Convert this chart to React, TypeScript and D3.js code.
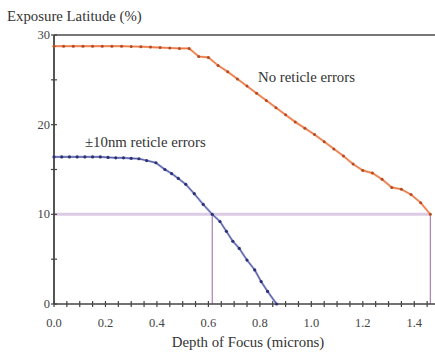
import React from "react";
import * as d3 from "d3";

const noErrX = [0, 0.0375, 0.075, 0.1125, 0.15, 0.1875, 0.225, 0.2625, 0.3, 0.3375, 0.375, 0.4125, 0.45, 0.4875, 0.525, 0.5625, 0.6, 0.6375, 0.675, 0.7125, 0.75, 0.7875, 0.825, 0.8625, 0.9, 0.9375, 0.975, 1.0125, 1.05, 1.0875, 1.125, 1.1625, 1.2, 1.2375, 1.275, 1.3125, 1.35, 1.3875, 1.425, 1.4625];
const noErrY = [28.75, 28.75, 28.75, 28.75, 28.75, 28.75, 28.75, 28.75, 28.72, 28.7, 28.65, 28.6, 28.55, 28.5, 28.5, 27.6, 27.5, 26.6, 25.9, 25.1, 24.3, 23.5, 22.7, 21.9, 21.1, 20.3, 19.6, 18.9, 18.1, 17.3, 16.5, 15.6, 14.9, 14.6, 13.9, 13.0, 12.8, 12.2, 11.3, 10.0];

const retErrX = [0, 0.03, 0.06, 0.09, 0.12, 0.15, 0.18, 0.21, 0.24, 0.27, 0.3, 0.33, 0.36, 0.396, 0.431, 0.457, 0.483, 0.512, 0.545, 0.58, 0.615, 0.645, 0.67, 0.695, 0.72, 0.75, 0.78, 0.805, 0.83, 0.865];
const retErrY = [16.4, 16.4, 16.4, 16.4, 16.4, 16.4, 16.4, 16.35, 16.3, 16.3, 16.25, 16.2, 16.0, 15.75, 15.0, 14.55, 14.0, 13.35, 12.3, 11.1, 10.0, 9.2, 8.1, 7.0, 6.2, 4.9, 3.8, 2.5, 1.4, 0.0];

const xTickLabels = ["0.0", "0.2", "0.4", "0.6", "0.8", "1.0", "1.2", "1.4"];
const yTickLabels = ["0", "10", "20", "30"];
const refLevel = 10;
const refDofs = [0.615, 1.4625];

const FONT = "'Times New Roman', 'Liberation Serif', Tinos, 'DejaVu Serif', serif";

export default function App() {
  const W = 435, H = 354;
  const x = d3.scaleLinear().domain([0, 1.5]).range([54, 440]);
  const y = d3.scaleLinear().domain([0, 30]).range([304, 35]);
  const ts = { fontFamily: FONT };

  const orange = noErrX.map((v, i) => [v, noErrY[i]] as [number, number]);
  const blue = retErrX.map((v, i) => [v, retErrY[i]] as [number, number]);
  const line = d3.line<[number, number]>().x(d => x(d[0])).y(d => y(d[1]));

  const xMinor = d3.range(0, 1.5001, 0.05);
  const yMinor = d3.range(0, 30.001, 5);

  return (
    <svg width={W} height={H} style={{ position: "absolute", left: 0, top: 0, background: "#fff", fontFamily: FONT }}>
      <line x1={x(0)} x2={x(refDofs[1])} y1={y(refLevel)} y2={y(refLevel)} stroke="#dccbe4" strokeWidth={3} />
      {refDofs.map((d, i) => (
        <line key={i} x1={x(d)} x2={x(d)} y1={y(refLevel)} y2={y(0)} stroke="#a882ae" strokeWidth={1.2} />
      ))}
      <line x1={x(0)} x2={W} y1={y(30)} y2={y(30)} stroke="#777" strokeWidth={2} />
      <line x1={x(0)} x2={x(0)} y1={y(30)} y2={y(0)} stroke="#555" strokeWidth={2} />
      <line x1={x(0)} x2={W} y1={y(0)} y2={y(0)} stroke="#444" strokeWidth={1.6} />
      {xMinor.map((t, i) => (
        <line key={i} x1={x(t)} x2={x(t)} y1={y(0) - 3} y2={y(0) + 3} stroke="#444" strokeWidth={1.2} />
      ))}
      {yMinor.map((t, i) => (
        <line key={i} x1={x(0) - 3} x2={x(0) + 3} y1={y(t)} y2={y(t)} stroke="#444" strokeWidth={1.2} />
      ))}
      {xTickLabels.map(l => (
        <text key={l} style={ts} x={x(+l)} y={327} textAnchor="middle" fontSize={12.5} fill="#444">{l}</text>
      ))}
      {yTickLabels.map(l => (
        <text key={l} style={ts} x={50} y={y(+l) + 4} textAnchor="end" fontSize={12.5} fill="#444">{l}</text>
      ))}
      <path d={line(orange) || ""} fill="none" stroke="#f3a27c" strokeWidth={2.2} />
      <path d={line(orange) || ""} fill="none" stroke="#e8703a" strokeWidth={0.9} />
      {orange.map((d, i) => (
        <circle key={i} cx={x(d[0])} cy={y(d[1])} r={1.5} fill="#b84a22" />
      ))}
      <path d={line(blue) || ""} fill="none" stroke="#9aa0d0" strokeWidth={2.2} />
      <path d={line(blue) || ""} fill="none" stroke="#4a509c" strokeWidth={0.9} />
      {blue.map((d, i) => (
        <circle key={i} cx={x(d[0])} cy={y(d[1])} r={1.6} fill="#2c3278" />
      ))}
      <text style={ts} x={258} y={82} fontSize={14.8} fill="#333">No reticle errors</text>
      <text style={ts} x={85} y={147} fontSize={14.8} fill="#333">±10nm reticle errors</text>
      <text style={ts} x={7} y={21} fontSize={14.8} fill="#333">Exposure Latitude (%)</text>
      <text style={ts} x={248} y={347} textAnchor="middle" fontSize={14.8} fill="#333">Depth of Focus (microns)</text>
    </svg>
  );
}
